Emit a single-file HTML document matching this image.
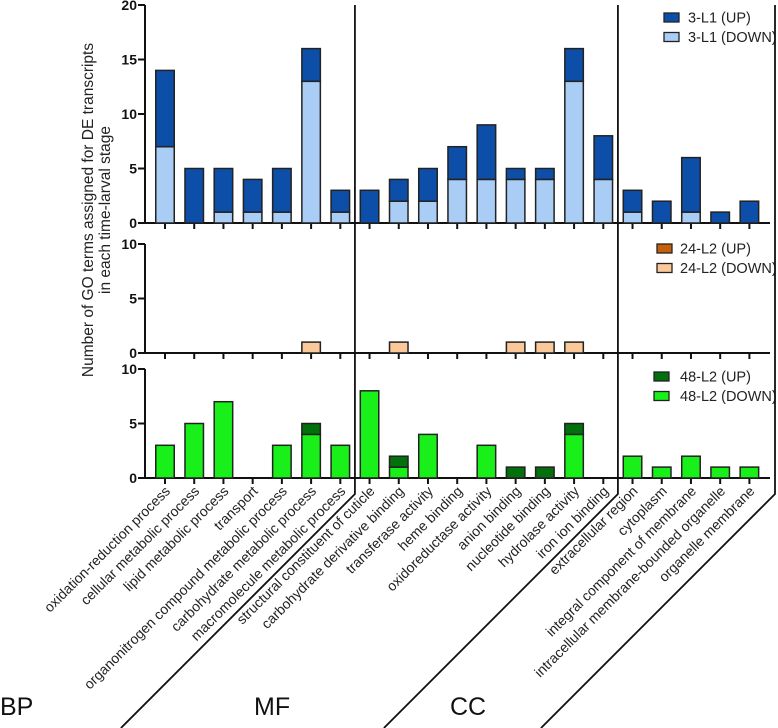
<!DOCTYPE html>
<html><head><meta charset="utf-8"><style>
html,body{margin:0;padding:0;background:#fff;}
svg{display:block;font-family:"Liberation Sans",Arial,sans-serif;}
</style></head><body>
<svg id="chart" width="778" height="728" viewBox="0 0 778 728" xmlns="http://www.w3.org/2000/svg">
<g id="ytitle" font-size="15.5" fill="#222" text-anchor="middle">
<text transform="translate(93,210) rotate(-90)">Number of GO terms assigned for DE transcripts</text>
<text transform="translate(110,210) rotate(-90)">in each time-larval stage</text>
</g>
<text x="0" y="715" font-size="25" fill="#111">BP</text>
<text x="254" y="715" font-size="25" fill="#111">MF</text>
<text x="450" y="715" font-size="25" fill="#111">CC</text>
</svg>
<script>
const categories = ["oxidation-reduction process","cellular metabolic process","lipid metabolic process","transport","organonitrogen compound metabolic process","carbohydrate metabolic process","macromolecule metabolic process","structural constituent of cuticle","carbohydrate derivative binding","transferase activity","heme binding","oxidoreductase activity","anion binding","nucleotide binding","hydrolase activity","iron ion binding","extracellular region","cytoplasm","integral component of membrane","intracellular membrane-bounded organelle","organelle membrane"];
const l1Down = [7,0,1,1,1,13,1, 0,2,2,4,4,4,4,13,4, 1,0,1,0,0];
const l1Up   = [7,5,4,3,4,3,2, 3,2,3,3,5,1,1,3,4, 2,2,5,1,2];
const l24Down = [0,0,0,0,0,1,0, 0,1,0,0,0,1,1,1,0, 0,0,0,0,0];
const l24Up   = [0,0,0,0,0,0,0, 0,0,0,0,0,0,0,0,0, 0,0,0,0,0];
const l48Down = [3,5,7,0,3,4,3, 8,1,4,0,3,0,0,4,0, 2,1,2,1,1];
const l48Up   = [0,0,0,0,0,1,0, 0,1,0,0,0,1,1,1,0, 0,0,0,0,0];
const topTicks = [0,5,10,15,20];
const smallTicks = [0,5,10];

const NS="http://www.w3.org/2000/svg";
const svg=document.getElementById('chart');
function mk(tag,attrs,parent){const e=document.createElementNS(NS,tag);for(const k in attrs)e.setAttribute(k,attrs[k]);(parent||svg).appendChild(e);return e;}
const X0=165, STEP=29.22, BW=18.5, UNIT=10.9, AXX=145, AXEND=770;
function xPos(i){return X0+i*STEP;}
const panels=[
 {name:'3-l1',base:223,ticks:topTicks,up:l1Up,down:l1Down,cUp:'#0c4ea8',cDown:'#aacdf6',labels:['3-L1 (UP)','3-L1 (DOWN)'],leg:{x:664,y:13,tx:688}},
 {name:'24-l2',base:353,ticks:smallTicks,up:l24Up,down:l24Down,cUp:'#c4600c',cDown:'#fbc899',labels:['24-L2 (UP)','24-L2 (DOWN)'],leg:{x:657,y:244,tx:680}},
 {name:'48-l2',base:478,ticks:smallTicks,up:l48Up,down:l48Down,cUp:'#02700c',cDown:'#19f019',labels:['48-L2 (UP)','48-L2 (DOWN)'],leg:{x:654,y:372,tx:680}}
];
panels.forEach(p=>{
  const g=mk('g',{});
  
  
  const y=v=>p.base-v*UNIT;
  const top=y(p.ticks[p.ticks.length-1]);
  const ax=mk('path',{d:`M${AXX},${top} L${AXX},${p.base} L${AXEND},${p.base}`,fill:'none',stroke:'#111','stroke-width':2},g);
  
  
  p.ticks.forEach(t=>{
    mk('line',{x1:AXX-7,x2:AXX,y1:y(t),y2:y(t),stroke:'#111','stroke-width':2},g);
    const tl=mk('text',{x:AXX-8,y:y(t)+5,'text-anchor':'end','font-size':14,'font-weight':'bold',fill:'#111'},g);
    tl.textContent=t;
    
    
  });
  categories.forEach((c,i)=>{
    const cx=xPos(i);
    mk('line',{x1:cx,x2:cx,y1:p.base,y2:p.base+6,stroke:'#111','stroke-width':2},g);
    const d=p.down[i],u=p.up[i];
    if(d>0){const r=mk('rect',{x:cx-BW/2,y:y(d),width:BW,height:d*UNIT,fill:p.cDown,stroke:'#222','stroke-width':1.5},g);
      
      }
    if(u>0){const r=mk('rect',{x:cx-BW/2,y:y(d+u),width:BW,height:u*UNIT,fill:p.cUp,stroke:'#222','stroke-width':1.5},g);
      
      }
  });
  p.labels.forEach((lb,k)=>{
    const ly=p.leg.y+k*19.5;
    const sq=mk('rect',{x:p.leg.x,y:ly,width:15,height:9,fill:k===0?p.cUp:p.cDown,stroke:'#222','stroke-width':1.3},g);
    
    
    const t=mk('text',{x:p.leg.tx,y:ly+9.5,'font-size':14.5,fill:'#222'},g);
    t.textContent=lb;
    
    
  });
});
categories.forEach((c,i)=>{
  const cx=xPos(i);
  const t=mk('text',{transform:`translate(${cx+6},${492}) rotate(-45)`,'text-anchor':'end','font-size':14,fill:'#222'});
  t.textContent=c;
  
  
});
const d1=(xPos(6)+xPos(7))/2, d2=(xPos(15)+xPos(16))/2, d3=775;
[[d1,'bp-mf-divider'],[d2,'mf-cc-divider'],[d3,'cc-right-divider']].forEach(([dx,nm])=>{
  const yk=494;
  const l=mk('path',{d:`M${dx},5 L${dx},${yk} L${dx-(728-yk)},728`,fill:'none',stroke:'#111','stroke-width':1.8});
  
  
});
</script>
</body></html>
